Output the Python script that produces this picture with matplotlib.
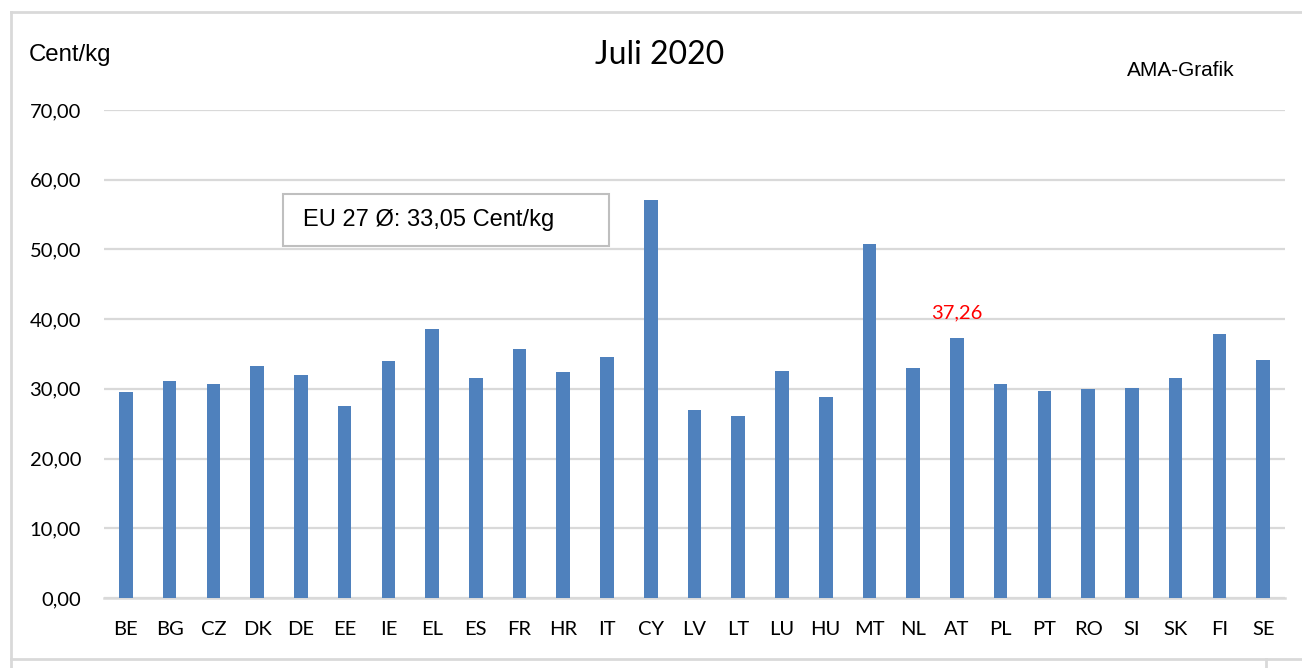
import matplotlib
matplotlib.use('Agg')
import matplotlib.pyplot as plt
from matplotlib.lines import Line2D
from matplotlib.patches import Rectangle

# data
countries = ['BE', 'BG', 'CZ', 'DK', 'DE', 'EE', 'IE', 'EL', 'ES', 'FR', 'HR',
             'IT', 'CY', 'LV', 'LT', 'LU', 'HU', 'MT', 'NL', 'AT', 'PL', 'PT',
             'RO', 'SI', 'SK', 'FI', 'SE']
prices = [29.55, 31.13, 30.70, 33.28, 31.99, 27.54, 34.00, 38.59, 31.56, 35.72,
          32.42, 34.57, 57.09, 26.97, 26.11, 32.56, 28.83, 50.78, 32.99, 37.26,
          30.70, 29.69, 29.98, 30.12, 31.56, 37.87, 34.14]
yticks = [0, 10, 20, 30, 40, 50, 60, 70]
highlight = 'AT'
eu_avg = '33,05'

bar_color = '#4f81bd'
grid_color = '#d9d9d9'
tick_font = 'Lato'
arial = 'Liberation Sans'

W, H = 1302, 668
fig = plt.figure(figsize=(W / 100, H / 100), dpi=100)
ax = fig.add_axes([104 / W, 1 - 598 / H, (1285 - 104) / W, (598 - 110) / H])

x = list(range(len(countries)))
ax.bar(x, prices, width=0.31, color=bar_color, zorder=3)

ax.set_xlim(-0.5, len(countries) - 0.5)
ax.set_ylim(0, 70)
ax.set_yticks(yticks)
ax.set_yticklabels(['%d,00' % v for v in yticks], fontsize=14.5, family=tick_font)
ax.set_xticks(x)
ax.set_xticklabels(countries, fontsize=14.5, family=tick_font)
ax.tick_params(axis='both', which='both', length=0)
ax.tick_params(axis='y', pad=16.5)
ax.tick_params(axis='x', pad=16.5)

ax.grid(axis='y', color=grid_color, linewidth=1.6, zorder=0)
for s in ['top', 'right', 'left']:
    ax.spines[s].set_visible(False)
ax.spines['bottom'].set_color(grid_color)
ax.spines['bottom'].set_linewidth(1.8)

# red value label for Austria
i = countries.index(highlight)
ax.annotate(('%.2f' % prices[i]).replace('.', ','), (i, prices[i]),
            xytext=(0, 25), textcoords='offset pixels', ha='center',
            va='center', color='red', fontsize=14.5, family=tick_font)

# texts in figure pixel coords
def fx(px):
    return px / W

def fy(py):
    return 1 - py / H

fig.text(fx(29), fy(55), 'Cent/kg', fontsize=17.3, family=arial,
         ha='left', va='center')
fig.text(fx(660), fy(55), 'Juli 2020', fontsize=23, family=tick_font,
         ha='center', va='center')
fig.text(fx(1181), fy(70), 'AMA-Grafik', fontsize=15, family=arial,
         ha='center', va='center')

# average box
fig.add_artist(Rectangle((fx(283), fy(246)), (609 - 283) / W, (246 - 194) / H,
                         transform=fig.transFigure, facecolor='white',
                         edgecolor='#bfbfbf', linewidth=1.5))
fig.text(fx(303), fy(220), 'EU 27 Ø: ' + eu_avg + ' Cent/kg', fontsize=17,
         family=arial, ha='left', va='center')

# chart frame lines
frame = dict(color=grid_color, linewidth=2, transform=fig.transFigure)
fig.add_artist(Line2D([fx(11), fx(1302)], [fy(12), fy(12)], **frame))
fig.add_artist(Line2D([fx(11), fx(11)], [fy(12), fy(668)], **frame))
fig.add_artist(Line2D([fx(11), fx(1302)], [fy(659), fy(659)], **frame))
fig.add_artist(Line2D([fx(1266), fx(1266)], [fy(659), fy(668)], **frame))

fig.savefig('out.png', dpi=100)
